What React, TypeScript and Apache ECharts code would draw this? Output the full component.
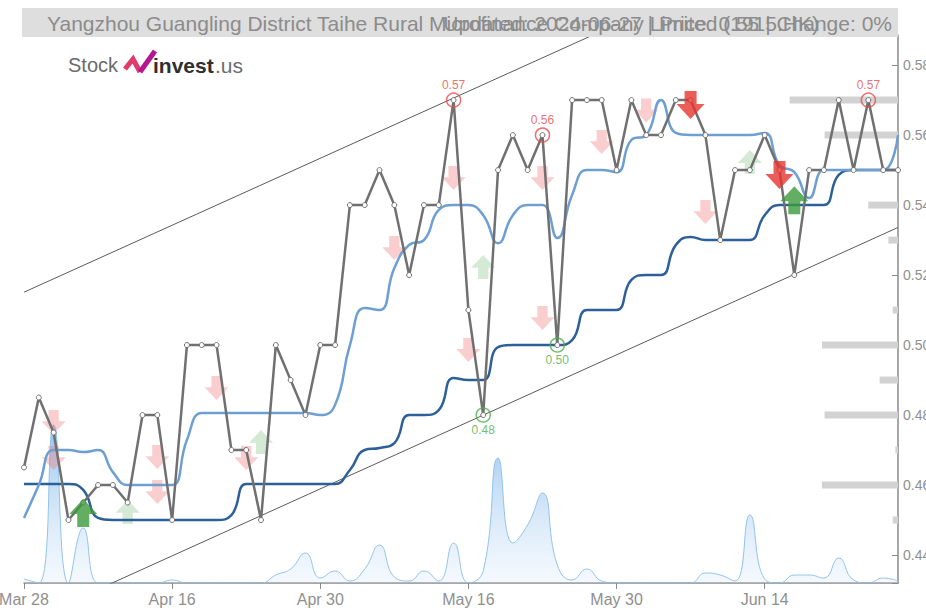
import React, { useEffect, useRef } from "react";
import * as echarts from "echarts";

// ---------- data ----------
const dates = [
  "Mar 28", "Apr 2", "Apr 3", "Apr 5", "Apr 8", "Apr 9", "Apr 10", "Apr 11", "Apr 12", "Apr 15",
  "Apr 16", "Apr 17", "Apr 18", "Apr 19", "Apr 22", "Apr 23", "Apr 24", "Apr 25", "Apr 26", "Apr 29",
  "Apr 30", "May 2", "May 3", "May 6", "May 7", "May 8", "May 9", "May 10", "May 13", "May 14",
  "May 16", "May 17", "May 20", "May 21", "May 22", "May 23", "May 24", "May 27", "May 28", "May 29",
  "May 30", "May 31", "Jun 3", "Jun 4", "Jun 5", "Jun 6", "Jun 7", "Jun 11", "Jun 12", "Jun 13",
  "Jun 14", "Jun 17", "Jun 18", "Jun 19", "Jun 20", "Jun 21", "Jun 24", "Jun 25", "Jun 26", "Jun 27",
];

const prices = [
  0.465, 0.485, 0.475, 0.45, 0.455, 0.46, 0.46, 0.455, 0.48, 0.48,
  0.45, 0.5, 0.5, 0.5, 0.47, 0.47, 0.45, 0.5, 0.49, 0.48,
  0.5, 0.5, 0.54, 0.54, 0.55, 0.54, 0.52, 0.54, 0.54, 0.57,
  0.51, 0.48, 0.55, 0.56, 0.55, 0.56, 0.5, 0.57, 0.57, 0.57,
  0.55, 0.57, 0.56, 0.56, 0.57, 0.57, 0.56, 0.53, 0.55, 0.55,
  0.56, 0.55, 0.52, 0.55, 0.55, 0.57, 0.55, 0.57, 0.55, 0.55,
];

const maShort = [
  0.4506, 0.46, 0.47, 0.47, 0.4694, 0.47, 0.4637, 0.46, 0.46, 0.46,
  0.46, 0.4729, 0.4806, 0.4806, 0.4806, 0.4806, 0.4806, 0.4806, 0.4806, 0.4806,
  0.48, 0.4829, 0.5, 0.5106, 0.51, 0.522, 0.5286, 0.53, 0.5386, 0.54,
  0.54, 0.5371, 0.5291, 0.5371, 0.54, 0.54, 0.5306, 0.5429, 0.55, 0.55,
  0.5494, 0.5586, 0.56, 0.57, 0.5606, 0.56, 0.56, 0.56, 0.56, 0.56,
  0.5606, 0.5514, 0.5494, 0.542, 0.55, 0.55, 0.55, 0.55, 0.55, 0.56,
];

const maLong = [
  0.4603, 0.4603, 0.4603, 0.4603, 0.4586, 0.4506, 0.45, 0.45, 0.45, 0.45,
  0.45, 0.45, 0.45, 0.45, 0.4514, 0.4603, 0.4603, 0.4603, 0.4603, 0.4603,
  0.4603, 0.4603, 0.4643, 0.47, 0.4706, 0.472, 0.48, 0.48, 0.4814, 0.4906,
  0.49, 0.49, 0.4994, 0.5, 0.5, 0.5, 0.5, 0.5014, 0.51, 0.51,
  0.51, 0.5186, 0.52, 0.52, 0.5286, 0.5309, 0.53, 0.53, 0.53, 0.53,
  0.5371, 0.54, 0.54, 0.54, 0.54, 0.5486, 0.55, 0.55, 0.55, 0.55,
];

const volumes = [
  4, 0, 158, 0, 55, 0, 0, 0, 0, 0,
  3, 0, 0, 0, 0, 0, 0, 8, 14, 30,
  5, 12, 2, 14, 38, 6, 2, 12, 2, 40,
  0, 12, 125, 40, 58, 90, 18, 3, 14, 2,
  0, 0, 0, 0, 0, 0, 10, 8, 2, 68,
  4, 0, 8, 8, 5, 25, 3, 0, 5, 2,
];

// trend channel end points (first and last trading day)
const upperChannel = [0.5151, 0.628];
const lowerChannel = [0.4206, 0.5336];

// volume-at-price profile
const profilePrices = [0.57, 0.56, 0.54, 0.53, 0.51, 0.5, 0.49, 0.48, 0.47, 0.46, 0.45];
const profileVolumes = [12.4, 8.4, 3.4, 1.1, 0.6, 8.7, 2.1, 8.4, 0.3, 8.7, 0.6];

// pivot highs / lows
const highMarks = [[29, 0.57], [35, 0.56], [57, 0.57]];
const lowMarks = [[31, 0.48], [36, 0.5]];

// signals
const sellWeak = [
  [2, 0.478], [2, 0.4677], [9, 0.468], [9, 0.458], [13, 0.4877], [15, 0.4677],
  [25, 0.5277], [29, 0.5477], [30, 0.4986], [35, 0.5477], [35, 0.5077],
  [39, 0.558], [42, 0.567], [46, 0.538],
];
const buyWeak = [[7, 0.4523], [16, 0.4723], [31, 0.5223], [49, 0.5523]];
const sellStrong = [[45, 0.5686], [51, 0.5486]];
const buyStrong = [[4, 0.452], [52, 0.5414]];

const titleLeft = "Yangzhou Guangling District Taihe Rural Microfinance Company Limited (1915.HK)";
const titleRight = "Updated: 2024-06-27 | Price: 0.55 | Change: 0%";

const NARROW = "'Liberation Sans Narrow', 'Liberation Sans', Arial, sans-serif";
const SANS = "'Liberation Sans', Arial, sans-serif";

const DOWN = "path://M8,0L20,0L20,13L28,13L14,28L0,13L8,13Z";
const UP = "path://M14,0L28,15L20,15L20,28L8,28L8,15L0,15Z";

export default function App() {
  const ref = useRef<HTMLDivElement>(null);

  useEffect(() => {
    if (!ref.current) return;
    const chart = echarts.init(ref.current, null, { renderer: "svg" });

    const option: any = {
      animation: false,
      grid: {
        left: 24, right: 28, top: 35, bottom: 25,
        containLabel: false, outerBoundsMode: "none",
      },
      xAxis: [
        {
          type: "category",
          data: dates,
          boundaryGap: false,
          axisLine: { lineStyle: { color: "#8a8a8a", width: 1.5 } },
          axisTick: { interval: 9, length: 6, lineStyle: { color: "#8a8a8a", width: 1 } },
          axisLabel: { interval: 9, color: "#8f8f8f", fontSize: 16, fontFamily: NARROW, margin: 8 },
          splitLine: { show: false },
        },
        { type: "value", inverse: true, min: 0, max: 100, show: false, gridIndex: 0 },
      ],
      yAxis: [
        {
          type: "value",
          position: "right",
          min: 0.432,
          max: 0.5886,
          splitNumber: 8,
          axisLine: { show: true, lineStyle: { color: "#8a8a8a", width: 1.5 } },
          axisTick: { show: true, inside: true, length: 6, lineStyle: { color: "#8a8a8a" } },
          axisLabel: {
            color: "#8f8f8f",
            fontSize: 14,
            fontFamily: SANS,
            margin: 5,
            formatter: (v: number) =>
              Math.abs(v * 50 - Math.round(v * 50)) < 1e-6 ? v.toFixed(2) : "",
          },
          splitLine: { show: false },
        },
        { type: "value", min: 0, max: 548, show: false },
      ],
      graphic: [
        { type: "rect", shape: { x: 22, y: 8, width: 876, height: 29 }, style: { fill: "#dedede" }, z: 10 },
        {
          type: "text", x: 47, y: 23, z: 11,
          style: { text: titleLeft, fill: "#8c8c8c", font: `21px ${SANS}`, verticalAlign: "middle", align: "left" },
        },
        {
          type: "text", x: 892, y: 23, z: 11,
          style: { text: titleRight, fill: "#8c8c8c", font: `21px ${SANS}`, verticalAlign: "middle", align: "right" },
        },
        {
          type: "text", x: 68, y: 65, z: 11,
          style: { text: "Stock", fill: "#6b6b6b", font: `20px ${SANS}`, verticalAlign: "middle" },
        },
        {
          type: "polyline", z: 11,
          shape: { points: [[125, 69], [133, 59], [140, 72]] },
          style: { stroke: "#e23a6a", lineWidth: 5, fill: null, lineJoin: "miter" },
        },
        {
          type: "polyline", z: 11,
          shape: { points: [[140, 72], [155, 51]] },
          style: { stroke: "#b4178f", lineWidth: 5, fill: null },
        },
        {
          type: "text", x: 153, y: 65, z: 11,
          style: { text: "invest", fill: "#2f2f2f", font: `bold 21px ${SANS}`, verticalAlign: "middle" },
        },
        {
          type: "text", x: 215, y: 65, z: 11,
          style: { text: ".us", fill: "#6b6b6b", font: `21px ${SANS}`, verticalAlign: "middle" },
        },
      ],
      series: [
        {
          name: "Volume",
          type: "line",
          xAxisIndex: 0,
          yAxisIndex: 1,
          data: volumes,
          smooth: true,
          symbol: "none",
          lineStyle: { color: "#92c3ec", width: 1 },
          areaStyle: {
            color: new echarts.graphic.LinearGradient(0, 0, 0, 1, [
              { offset: 0, color: "rgba(80,155,225,0.85)" },
              { offset: 1, color: "rgba(210,230,248,0.35)" },
            ]),
          },
          z: 1,
        },
        {
          name: "Profile",
          type: "custom",
          xAxisIndex: 1,
          yAxisIndex: 0,
          data: profilePrices.map((p, i) => [profileVolumes[i], p]),
          encode: { x: 0, y: 1 },
          renderItem: (params: any, api: any) => {
            const vol = api.value(0);
            const price = api.value(1);
            const r = api.coord([0, price]);
            const l = api.coord([vol, price]);
            return {
              type: "rect",
              shape: { x: l[0], y: r[1] - 3.5, width: r[0] - l[0], height: 7 },
              style: { fill: "#d2d2d2" },
            };
          },
          z: 1,
        },
        {
          name: "Upper",
          type: "line",
          data: [[0, upperChannel[0]], [dates.length - 1, upperChannel[1]]],
          symbol: "none",
          lineStyle: { color: "#5a5a5a", width: 1 },
          z: 2,
        },
        {
          name: "Lower",
          type: "line",
          data: [[0, lowerChannel[0]], [dates.length - 1, lowerChannel[1]]],
          symbol: "none",
          lineStyle: { color: "#5a5a5a", width: 1 },
          z: 2,
        },
        {
          name: "SellWeak",
          type: "scatter",
          data: sellWeak,
          symbol: DOWN,
          symbolSize: [24, 24],
          itemStyle: { color: "rgba(240,120,120,0.45)" },
          z: 3,
        },
        {
          name: "BuyWeak",
          type: "scatter",
          data: buyWeak,
          symbol: UP,
          symbolSize: [24, 24],
          itemStyle: { color: "rgba(100,180,100,0.35)" },
          z: 3,
        },
        {
          name: "MA long",
          type: "line",
          data: maLong,
          smooth: 0.5,
          symbol: "none",
          lineStyle: { color: "#2d5f98", width: 2.5 },
          z: 4,
        },
        {
          name: "MA short",
          type: "line",
          data: maShort,
          smooth: 0.5,
          symbol: "none",
          lineStyle: { color: "#6d9fd2", width: 2.5 },
          z: 4,
        },
        {
          name: "Price",
          type: "line",
          data: prices,
          symbol: "circle",
          symbolSize: 5,
          showAllSymbol: true,
          lineStyle: { color: "#707070", width: 2.5 },
          itemStyle: { color: "#ffffff", borderColor: "#707070", borderWidth: 1 },
          z: 5,
        },
        {
          name: "Highs",
          type: "scatter",
          data: highMarks,
          symbol: "circle",
          symbolSize: 14,
          itemStyle: { color: "rgba(0,0,0,0)", borderColor: "#e84a4a", borderWidth: 1.5 },
          label: {
            show: true, position: "top", distance: 1, color: "#e84a4a", fontSize: 12, fontFamily: SANS,
            formatter: (p: any) => p.value[1].toFixed(2),
          },
          z: 6,
        },
        {
          name: "Lows",
          type: "scatter",
          data: lowMarks,
          symbol: "circle",
          symbolSize: 14,
          itemStyle: { color: "rgba(0,0,0,0)", borderColor: "#4cae4c", borderWidth: 1.5 },
          label: {
            show: true, position: "bottom", distance: 1, color: "#4cae4c", fontSize: 12, fontFamily: SANS,
            formatter: (p: any) => p.value[1].toFixed(2),
          },
          z: 6,
        },
        {
          name: "SellStrong",
          type: "scatter",
          data: sellStrong,
          symbol: DOWN,
          symbolSize: [28, 28],
          itemStyle: { color: "#e53530" },
          z: 7,
        },
        {
          name: "BuyStrong",
          type: "scatter",
          data: buyStrong,
          symbol: UP,
          symbolSize: [28, 28],
          itemStyle: { color: "#3b9a3b" },
          z: 7,
        },
      ],
    };

    chart.setOption(option);
    return () => chart.dispose();
  }, []);

  return (
    <div
      ref={ref}
      style={{ position: "fixed", left: 0, top: 0, width: 926, height: 608, background: "#fff" }}
    />
  );
}
